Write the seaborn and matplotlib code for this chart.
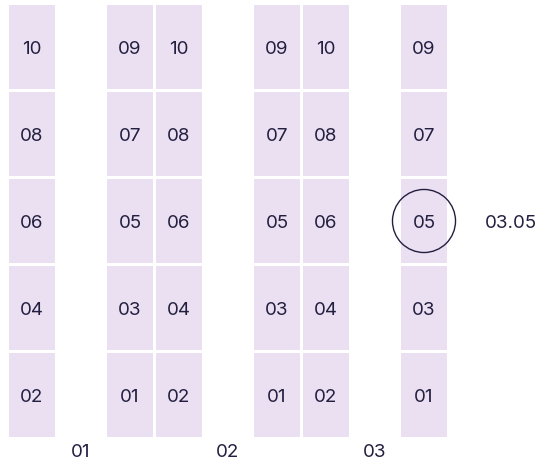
import matplotlib
matplotlib.use("Agg")
import matplotlib.pyplot as plt
import seaborn as sns

# --- data ---
aisles = ["01", "02", "03"]
seats = [1, 2, 3, 4, 5, 6, 7, 8, 9, 10]
selected_aisle = "03"
selected_seat = 5

tile_color = "#EBE0F1"
ink = "#231F40"

sns.set_theme(style="white")
plt.rcParams['font.family'] = ['Inter', 'DejaVu Sans']

fig = plt.figure(figsize=(5.46, 4.65), dpi=100)
ax = fig.add_axes([0, 0, 1, 1])

tw = 46 / 49   # tile width in column units
th = 84 / 87   # tile height in row units
dy = -2.5 / 87  # text sits a touch below centre

xs, ys, labels = [], [], []
for i, a in enumerate(aisles):
    for s in seats:
        col = 3 * i + (2 if s % 2 else 0)
        row = (s - 1) // 2
        xs.append(col)
        ys.append(row)
        labels.append(f"{s:02d}")

ax.bar(xs, [th] * len(xs), width=tw, bottom=ys, align='edge',
       color=tile_color, linewidth=0)
for x, y, lab in zip(xs, ys, labels):
    ax.text(x + tw / 2, y + th / 2 + dy, lab, ha='center', va='center',
            fontsize=13.5, color=ink)

# aisle labels
for i, a in enumerate(aisles):
    ax.text(3 * i + 1 + tw / 2, -0.15 + dy, a, ha='center', va='center',
            fontsize=13.5, color=ink)

# selected seat
ai = aisles.index(selected_aisle)
sc = 3 * ai + (2 if selected_seat % 2 else 0)
sr = (selected_seat - 1) // 2
ax.scatter([sc + tw / 2], [sr + th / 2], s=2060, facecolors='none',
           edgecolors=ink, linewidths=1.0, zorder=3)
ax.text(sc + tw / 2 + 61 / 49, sr + th / 2 + dy, f"{selected_aisle}.{selected_seat:02d}",
        ha='left', va='center', fontsize=13.5, color=ink)

ax.set_xlim(-9 / 49, 537 / 49)
ax.set_ylim(-28 / 87, 437 / 87)
ax.axis('off')

fig.savefig("out.png", dpi=100)
